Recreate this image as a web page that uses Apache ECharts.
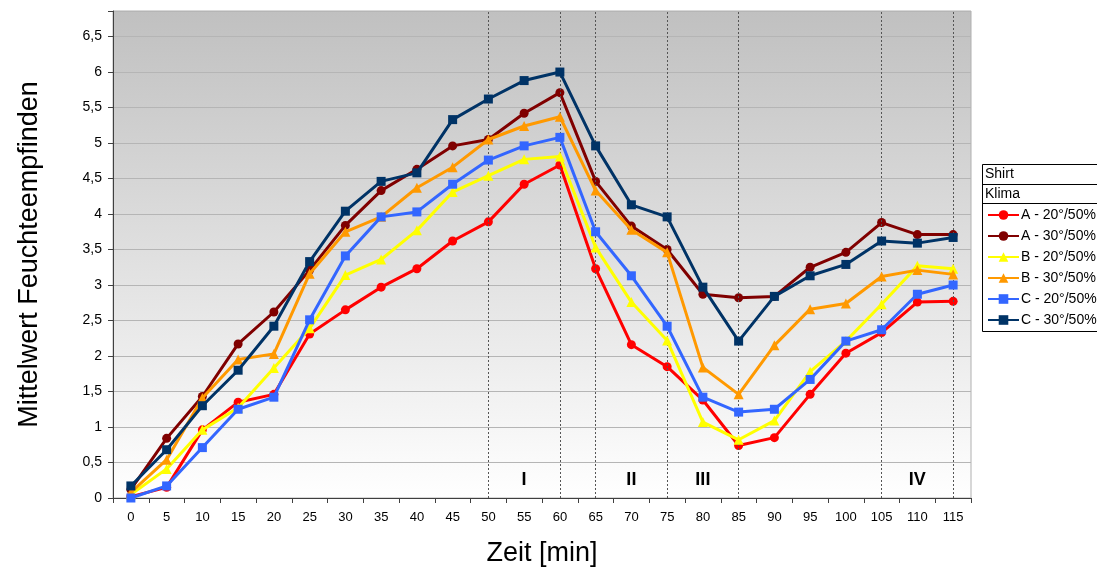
<!DOCTYPE html>
<html>
<head>
<meta charset="utf-8">
<script src="https://cdn.jsdelivr.net/npm/echarts@6/dist/echarts.min.js"></script>
<style>
  html, body { margin: 0; padding: 0; background: #fff; }
  #chart { width: 1097px; height: 574px; }
</style>
</head>
<body>
<div id="chart"></div>
<script>
// Zeitpunkte [min]
const zeit = ['0','5','10','15','20','25','30','35','40','45','50','55','60','65','70','75','80','85','90','95','100','105','110','115'];

// Mittelwert Feuchteempfinden je Shirt / Klima
const a20 = [0.02, 0.15, 0.96, 1.35, 1.46, 2.31, 2.65, 2.97, 3.23, 3.62, 3.89, 4.42, 4.69, 3.23, 2.16, 1.85, 1.38, 0.74, 0.85, 1.46, 2.04, 2.33, 2.76, 2.77];
const a30 = [0.12, 0.84, 1.43, 2.17, 2.62, 3.21, 3.84, 4.33, 4.63, 4.96, 5.05, 5.42, 5.71, 4.46, 3.83, 3.50, 2.87, 2.82, 2.84, 3.25, 3.46, 3.88, 3.71, 3.71];
const b20 = [0.05, 0.41, 0.96, 1.27, 1.83, 2.39, 3.14, 3.36, 3.77, 4.31, 4.54, 4.77, 4.81, 3.53, 2.76, 2.22, 1.07, 0.82, 1.09, 1.78, 2.21, 2.73, 3.27, 3.23];
const b30 = [0.08, 0.54, 1.41, 1.95, 2.03, 3.16, 3.75, 3.96, 4.37, 4.66, 5.05, 5.24, 5.37, 4.33, 3.78, 3.46, 1.84, 1.46, 2.15, 2.66, 2.74, 3.12, 3.21, 3.15];
const c20 = [0.00, 0.17, 0.71, 1.25, 1.42, 2.51, 3.41, 3.96, 4.03, 4.42, 4.76, 4.96, 5.08, 3.75, 3.13, 2.42, 1.42, 1.21, 1.25, 1.67, 2.21, 2.37, 2.87, 3.00];
const c30 = [0.17, 0.68, 1.30, 1.80, 2.42, 3.33, 4.04, 4.46, 4.58, 5.33, 5.62, 5.88, 6.00, 4.96, 4.13, 3.96, 2.97, 2.21, 2.84, 3.13, 3.29, 3.62, 3.59, 3.67];

const seriesNames = ['A - 20°/50%', 'A - 30°/50%', 'B - 20°/50%', 'B - 30°/50%', 'C - 20°/50%', 'C - 30°/50%'];
const seriesData = [a20, a30, b20, b30, c20, c30];
const seriesColors = ['#ff0000', '#800000', '#ffff00', '#ff9900', '#3366ff', '#003366'];
const seriesSymbols = ['circle', 'circle', 'triangle', 'triangle', 'rect', 'rect'];
const seriesSymbolSizes = [9, 9, 10, 10, 9, 9];

// Phasengrenzen und Phasenbeschriftung
const phasenGrenzen = ['50', '60', '65', '75', '85', '105', '115'];
const phasenLabels = ['I', 'II', 'III', 'IV'];
const phasenPos = ['55', '70', '80', '110'];
const phasenHoehe = 0.25;

const yMax = 6.86;
const legendKopf = ['Shirt', 'Klima'];

const fontFam = '"Liberation Sans", Arial, sans-serif';

const chart = echarts.init(document.getElementById('chart'), null, { renderer: 'canvas' });

const series = seriesNames.map((name, i) => {
  const s = {
    name: name,
    type: 'line',
    data: seriesData[i],
    symbol: seriesSymbols[i],
    symbolSize: seriesSymbolSizes[i],
    showAllSymbol: true,
    itemStyle: { color: seriesColors[i], borderWidth: 0 },
    lineStyle: { color: seriesColors[i], width: 3 },
    emphasis: { disabled: true },
    animation: false,
    z: 3 + i
  };
  if (i === 0) {
    s.markLine = {
      silent: true,
      symbol: 'none',
      animation: false,
      label: { show: false },
      lineStyle: { color: '#555', width: 1, type: [2, 2] },
      data: phasenGrenzen.map(v => ({ xAxis: v }))
    };
    s.markPoint = {
      silent: true,
      animation: false,
      symbol: 'circle',
      symbolSize: 0,
      label: {
        show: true,
        position: 'inside',
        formatter: '{b}',
        color: '#000',
        fontFamily: fontFam,
        fontWeight: 'bold',
        fontSize: 18
      },
      data: phasenLabels.map((t, k) => ({ name: t, coord: [phasenPos[k], phasenHoehe] }))
    };
  }
  return s;
});

const option = {
  backgroundColor: '#ffffff',
  animation: false,
  grid: {
    left: 113,
    right: 126,
    top: 11,
    bottom: 76,
    show: true,
    borderWidth: 1,
    borderColor: '#b0b0b0',
    backgroundColor: {
      type: 'linear', x: 0, y: 0, x2: 0, y2: 1,
      colorStops: [
        { offset: 0, color: '#c0c0c0' },
        { offset: 1, color: '#ffffff' }
      ]
    }
  },
  xAxis: {
    type: 'category',
    data: zeit,
    boundaryGap: true,
    name: 'Zeit [min]',
    nameLocation: 'middle',
    nameGap: 42,
    nameTextStyle: { fontFamily: fontFam, fontSize: 27, color: '#000' },
    axisLine: { lineStyle: { color: '#404040', width: 1 } },
    axisTick: { show: true, length: 5, inside: false, alignWithLabel: false, lineStyle: { color: '#404040' } },
    axisLabel: { interval: 0, margin: 13, fontFamily: fontFam, fontSize: 13, color: '#000' },
    splitLine: { show: false }
  },
  yAxis: {
    type: 'value',
    min: 0,
    max: yMax,
    interval: 0.5,
    name: 'Mittelwert Feuchteempfinden',
    nameLocation: 'middle',
    nameGap: 70,
    nameTextStyle: { fontFamily: fontFam, fontSize: 27, color: '#000' },
    axisLine: { show: true, lineStyle: { color: '#404040', width: 1 } },
    axisTick: { show: true, length: 5, lineStyle: { color: '#404040' } },
    axisLabel: {
      margin: 11,
      fontFamily: fontFam,
      fontSize: 14,
      color: '#000',
      formatter: function (v) {
        const r = Math.round(v * 2) / 2;
        if (Math.abs(r - v) > 1e-6) return '';
        return String(r).replace('.', ',');
      }
    },
    splitLine: { show: true, lineStyle: { color: '#b5b5b5', width: 1 } }
  },
  legend: {
    orient: 'vertical',
    left: 987,
    top: 208,
    itemWidth: 31,
    itemHeight: 12,
    itemGap: 7,
    padding: 0,
    selectedMode: false,
    textStyle: { fontFamily: fontFam, fontSize: 14, color: '#000', padding: [0, 0, 0, -3] },
    data: seriesNames
  },
  graphic: [
    {
      type: 'rect',
      silent: true,
      shape: { x: 982.5, y: 164.5, width: 130, height: 167 },
      style: { fill: '#fff', stroke: '#000', lineWidth: 1 },
      z: -1
    },
    {
      type: 'line',
      silent: true,
      shape: { x1: 982.5, y1: 184.5, x2: 1100, y2: 184.5 },
      style: { stroke: '#000', lineWidth: 1 }
    },
    {
      type: 'line',
      silent: true,
      shape: { x1: 982.5, y1: 203.5, x2: 1100, y2: 203.5 },
      style: { stroke: '#000', lineWidth: 1 }
    },
    {
      type: 'text',
      silent: true,
      left: 985,
      top: 167,
      style: { text: legendKopf[0], font: '14px ' + fontFam, fill: '#000' }
    },
    {
      type: 'text',
      silent: true,
      left: 985,
      top: 187,
      style: { text: legendKopf[1], font: '14px ' + fontFam, fill: '#000' }
    }
  ],
  series: series
};

chart.setOption(option);
</script>
</body>
</html>
